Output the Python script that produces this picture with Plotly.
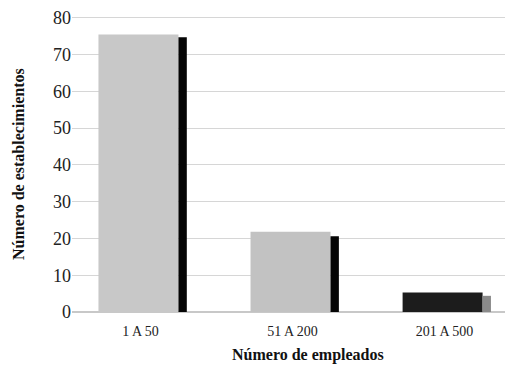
import plotly.graph_objects as go

categories = ["1 A 50", "51 A 200", "201 A 500"]
wide_values = [75.5, 21.8, 5.3]
thin_values = [74.7, 20.6, 4.4]
y_ticks = [0, 10, 20, 30, 40, 50, 60, 70, 80]

wide_colors = ["#c8c8c8", "#c2c2c2", "#1c1c1c"]
thin_colors = ["#050505", "#050505", "#8a8a8a"]

fig = go.Figure()
fig.add_trace(go.Bar(x=categories, y=wide_values, width=0.526, offset=-0.276,
                     marker=dict(color=wide_colors, line=dict(width=0)), showlegend=False))
fig.add_trace(go.Bar(x=categories, y=thin_values, width=0.055, offset=0.25,
                     marker=dict(color=thin_colors, line=dict(width=0)), showlegend=False))

fig.update_layout(
    width=505, height=359,
    margin=dict(l=64, r=0, t=8, b=55),
    barmode="overlay",
    plot_bgcolor="white", paper_bgcolor="white",
    font=dict(family="Liberation Serif, Times New Roman, serif", color="#222"),
    xaxis=dict(range=[-0.45, 2.45], showgrid=False, showline=False, zeroline=False,
               ticks="", tickfont=dict(size=14, color="#222"), ticklabelstandoff=9),
    yaxis=dict(range=[0, 80.5], tickvals=y_ticks, showgrid=True, gridcolor="#d6d6d6",
               gridwidth=1, zeroline=True, zerolinecolor="#c8c8c8", showline=False,
               ticks="", tickfont=dict(size=18, color="#222"), ticklabelstandoff=0),
    annotations=[
        dict(text="<b>Número de empleados</b>", xref="paper", yref="paper",
             x=0.535, y=-0.145, xanchor="center", yanchor="middle", showarrow=False,
             font=dict(size=16, color="#111")),
        dict(text="<b>Número de establecimientos</b>", xref="paper", yref="paper",
             x=-0.1225, y=0.5, xanchor="center", yanchor="middle", showarrow=False,
             textangle=-90, font=dict(size=16, color="#111")),
    ],
)

fig.write_html("out.html")
